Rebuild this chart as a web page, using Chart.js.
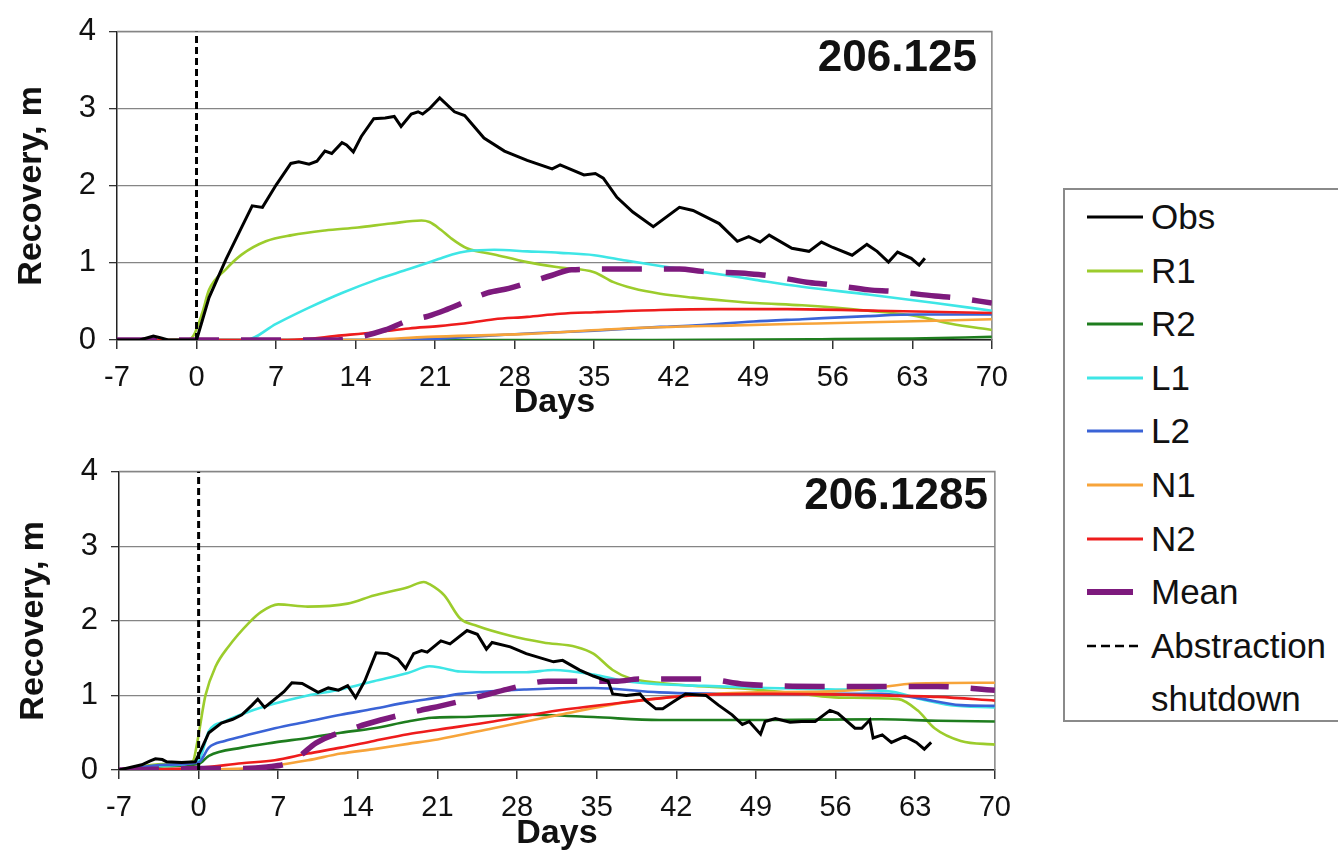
<!DOCTYPE html>
<html><head><meta charset="utf-8">
<script src="https://cdn.jsdelivr.net/npm/chart.js@4.4.1/dist/chart.umd.min.js"></script>
<style>
html,body{margin:0;padding:0;background:#fff;}
body{width:1338px;height:854px;position:relative;overflow:hidden;font-family:'Liberation Sans',Arial,sans-serif;}
#c1wrap{position:absolute;left:0;top:0;width:1020px;height:423px;}
#c2wrap{position:absolute;left:2px;top:440px;width:1021px;height:414px;}
#legend{position:absolute;left:1063px;top:188px;width:300px;height:534px;border:2px solid #8a8a8a;box-sizing:border-box;}
.li{position:absolute;left:0;height:40px;display:flex;align-items:center;white-space:nowrap;font-size:35px;color:#111;}
.li svg{margin-left:22px;}
</style></head>
<body>
<div id="c1wrap"><canvas id="c1"></canvas></div>
<div id="c2wrap"><canvas id="c2"></canvas></div>
<div id="legend"></div>
<script>
// ---------- tick labels ----------
const dayTicks = [-7,0,7,14,21,28,35,42,49,56,63,70];
const recoveryTicks = [0,1,2,3,4];
const wellNames = ['206.125','206.1285'];
const seriesNames = ['Obs','R1','R2','L1','L2','N1','N2','Mean'];
const shutdownName = ['Abstraction','shutdown'];
const shutdownLine = [[0,0],[0,4]];

// ---------- well 206.125 : [day, recovery m] ----------
const obsA = [[-7,0],[-5,0],[-4.3,0.03],[-3.8,0.05],[-3.2,0.03],[-2.5,0],[0,0],[0.5,0.25],[1.1,0.55],[2.6,1.05],[4.0,1.47],[4.9,1.74],[5.8,1.72],[7.0,2.01],[8.3,2.29],[9.0,2.31],[9.9,2.28],[10.6,2.32],[11.3,2.45],[11.9,2.42],[12.8,2.56],[13.2,2.53],[13.8,2.44],[14.5,2.64],[15.6,2.87],[16.6,2.88],[17.4,2.90],[18.0,2.77],[18.9,2.93],[19.5,2.96],[19.9,2.93],[20.5,3.0],[21.4,3.14],[22.7,2.96],[23.6,2.91],[25.3,2.62],[27.1,2.45],[29.1,2.33],[31.3,2.22],[32.0,2.27],[34.1,2.14],[35.1,2.16],[35.8,2.10],[37.0,1.85],[38.4,1.66],[40.2,1.47],[42.5,1.72],[43.7,1.68],[46.0,1.51],[47.6,1.28],[48.6,1.34],[49.6,1.27],[50.4,1.36],[52.4,1.19],[53.9,1.15],[55.0,1.27],[56.0,1.20],[57.7,1.10],[59.0,1.24],[59.9,1.15],[60.9,1.01],[61.7,1.14],[62.9,1.06],[63.6,0.97],[64.1,1.06]];
const r1A = [[-7,0],[-1,0],[-0.3,0.05],[0.5,0.35],[1.1,0.65],[2.6,0.92],[4.0,1.11],[6.1,1.28],[8.4,1.36],[11.3,1.42],[14.2,1.46],[17.1,1.51],[19.8,1.55],[20.5,1.53],[21.5,1.43],[22.4,1.32],[23.8,1.19],[26.2,1.11],[29.1,1.01],[32.0,0.94],[35.0,0.88],[36.7,0.75],[38.4,0.67],[40.8,0.60],[43.7,0.55],[46.6,0.51],[49.2,0.48],[53.3,0.45],[59.1,0.38],[63.4,0.31],[66.4,0.21],[70,0.13]];
const r2A = [[-7,0],[40,0],[55,0.01],[63,0.02],[70,0.04]];
const l1A = [[-7,0],[4.3,0],[7.0,0.21],[9.9,0.42],[12.8,0.61],[15.8,0.78],[18.7,0.92],[21.3,1.05],[22.5,1.11],[23.8,1.15],[26.2,1.17],[29.1,1.15],[32,1.13],[35,1.10],[37.8,1.03],[40.8,0.96],[43.7,0.90],[46.6,0.84],[49.2,0.78],[53.3,0.69],[59.1,0.59],[65,0.48],[70,0.38]];
const l2A = [[-7,0],[18,0],[25,0.05],[30,0.09],[35,0.12],[40.8,0.17],[44,0.19],[49,0.24],[53.3,0.27],[59.1,0.31],[63.4,0.33],[70,0.33]];
const n1A = [[-7,0],[14,0],[20.4,0.04],[29.1,0.08],[37.8,0.15],[47.5,0.19],[53.3,0.21],[59.1,0.23],[65,0.25],[70,0.27]];
const n2A = [[-7,0],[8,0],[12.8,0.06],[15.8,0.10],[18.7,0.15],[21.3,0.18],[23.3,0.21],[26.2,0.27],[29.1,0.30],[32,0.34],[35,0.36],[40.8,0.39],[46,0.40],[52,0.40],[60,0.38],[70,0.35]];
const meanA = [[-7,0],[12,0],[14,0.03],[16.6,0.13],[18.6,0.25],[20.4,0.31],[22.1,0.40],[25.6,0.61],[27.5,0.67],[31.3,0.84],[33,0.91],[36.8,0.92],[42.5,0.92],[44.5,0.89],[48.6,0.86],[50.1,0.84],[53.7,0.75],[55.6,0.72],[59.2,0.65],[61.3,0.63],[65,0.57],[66.7,0.55],[70,0.48]];

// ---------- well 206.1285 ----------
const obsB = [[-7,0],[-5,0.07],[-4.3,0.12],[-3.8,0.15],[-3.2,0.14],[-2.8,0.11],[-1.5,0.1],[-0.3,0.11],[0.3,0.3],[0.9,0.50],[2.0,0.63],[3.0,0.68],[3.8,0.74],[4.7,0.87],[5.2,0.95],[5.8,0.84],[6.7,0.95],[7.5,1.05],[8.2,1.17],[9.1,1.16],[10.5,1.04],[11.4,1.10],[12.3,1.07],[13.1,1.13],[13.8,0.97],[14.6,1.19],[15.6,1.57],[16.6,1.56],[17.5,1.49],[18.2,1.36],[18.9,1.56],[19.6,1.60],[20.1,1.58],[21.3,1.73],[22.1,1.69],[23.6,1.87],[24.5,1.82],[25.3,1.62],[25.8,1.71],[27.4,1.65],[28.8,1.56],[31.2,1.45],[32.0,1.47],[33.5,1.34],[34.7,1.26],[36.0,1.19],[36.4,1.02],[37.6,1.00],[38.8,1.02],[39.3,0.93],[40.2,0.82],[40.8,0.82],[41.7,0.91],[42.8,1.02],[44.6,1.00],[45.7,0.87],[46.9,0.74],[47.8,0.61],[48.4,0.65],[49.4,0.48],[49.8,0.65],[50.7,0.69],[52,0.64],[53.0,0.65],[54.2,0.65],[55.5,0.80],[56.2,0.76],[57.7,0.56],[58.3,0.56],[59.0,0.67],[59.3,0.43],[60.1,0.47],[60.9,0.37],[62.1,0.45],[63.1,0.37],[63.8,0.28],[64.4,0.37]];
const r1B = [[-7,0],[-4,0.07],[-1,0.1],[-0.5,0.12],[-0.1,0.39],[0.6,1.0],[1.5,1.39],[2.6,1.65],[4.4,1.97],[5.5,2.12],[7.0,2.22],[9.6,2.19],[13.1,2.23],[15.4,2.34],[18.4,2.45],[19.8,2.52],[20.3,2.49],[21.6,2.34],[23.0,2.03],[24.5,1.93],[27.4,1.80],[30.3,1.71],[33.2,1.65],[34.7,1.56],[36.4,1.34],[37.9,1.23],[40.5,1.17],[43.4,1.13],[48.9,1.08],[53,1.02],[56.3,0.97],[61.5,0.95],[63.2,0.80],[64.7,0.56],[67,0.39],[70,0.34]];
const r2B = [[-7,0],[-3,0.05],[0,0.08],[0.9,0.19],[3.8,0.30],[6.7,0.37],[9.6,0.43],[12.5,0.50],[15.4,0.56],[18.4,0.65],[20.5,0.70],[23,0.71],[28.8,0.74],[34.7,0.71],[40.5,0.67],[50,0.67],[60,0.68],[65,0.66],[70,0.65]];
const l1B = [[-7,0],[-3,0.06],[0,0.13],[0.9,0.52],[2.3,0.65],[4.4,0.78],[6.7,0.89],[9.6,1.0],[12.5,1.08],[15.4,1.19],[18.4,1.30],[20.3,1.39],[21.3,1.37],[23,1.32],[25.9,1.31],[28.8,1.31],[31.2,1.34],[34.7,1.28],[37.6,1.19],[40.5,1.15],[44,1.13],[50,1.10],[56,1.08],[61,1.05],[63.5,0.95],[66.1,0.87],[70,0.84]];
const l2B = [[-7,0],[-3,0.07],[0,0.1],[0.9,0.30],[2.3,0.39],[3.8,0.45],[6.7,0.56],[9.6,0.65],[12.5,0.74],[15.4,0.82],[18.4,0.91],[21,0.97],[23,1.02],[28.8,1.08],[34.7,1.10],[40.5,1.04],[48,1.02],[60,1.02],[63,0.97],[67,0.87],[70,0.86]];
const n1B = [[-7,0],[4,0.02],[6.7,0.06],[9.6,0.13],[12.5,0.22],[15.4,0.28],[18.4,0.35],[21,0.41],[25.9,0.56],[31.7,0.74],[37.6,0.91],[43.4,1.0],[49,1.04],[55,1.05],[59,1.09],[63,1.16],[70,1.17]];
const n2B = [[-7,0],[0,0.03],[3.8,0.09],[6.7,0.13],[9.6,0.22],[12.5,0.30],[15.4,0.39],[18.4,0.48],[21,0.54],[25.9,0.65],[31.7,0.80],[37.6,0.91],[43.4,1.0],[50,1.02],[60,1.0],[65,0.98],[70,0.93]];
const meanB = [[-7,0],[0,0.02],[4,0.02],[6,0.04],[8,0.1],[9,0.2],[10.3,0.36],[14,0.58],[16,0.67],[19.5,0.80],[21.3,0.86],[25.1,1.0],[27.1,1.08],[30.7,1.19],[33,1.19],[36.8,1.19],[38.7,1.22],[42.5,1.22],[44.4,1.22],[48,1.15],[55,1.12],[65,1.12],[70,1.07]];

// ---------- styles ----------
const FAM = "'Liberation Sans', Arial, sans-serif";
const colors = {Obs:'#000000', R1:'#9ccc2c', R2:'#1e7d1e', L1:'#3ee6e6', L2:'#3a63d6', N1:'#f7a43a', N2:'#ee1c1c', Mean:'#7d1a7d'};

const pts = a => a.map(p => ({x:p[0], y:p[1]}));

function buildDatasets(set){
  const ds = [];
  seriesNames.forEach((n, i) => {
    const isObs = n === 'Obs', isMean = n === 'Mean';
    ds.push({
      label:n, data:pts(set[i]), borderColor:colors[n], backgroundColor:colors[n],
      borderWidth: isMean ? 5.5 : (isObs ? 3 : 2.6),
      borderDash: isMean ? [40,22] : [],
      cubicInterpolationMode: isObs ? 'default' : 'monotone',
      tension: 0, pointRadius:0, fill:false,
      order: isObs ? 0 : (isMean ? 1 : 9 - i)
    });
  });
  ds.push({label:shutdownName.join(' '), data:pts(shutdownLine), borderColor:'#000', borderWidth:3, borderDash:[7,4], pointRadius:0, order:0});
  return ds;
}

const framePlugin = {
  id:'frame',
  beforeDatasetsDraw(chart){
    const {ctx, chartArea:{left,right,top,bottom}} = chart;
    ctx.save(); ctx.strokeStyle = '#858585'; ctx.lineWidth = 1.5;
    ctx.beginPath(); ctx.moveTo(left, top); ctx.lineTo(right, top); ctx.lineTo(right, bottom); ctx.stroke();
    ctx.restore();
  },
  afterDatasetsDraw(chart, args, opts){
    const {ctx, chartArea:{right,top}} = chart;
    ctx.save(); ctx.fillStyle = '#111'; ctx.font = "bold 44px " + FAM;
    ctx.textAlign = 'right'; ctx.textBaseline = 'middle';
    ctx.fillText(opts.text, right - opts.dx, top + opts.dy);
    ctx.restore();
  }
};

function makeChart(id, set, name, xAxisH, dx, dy, daysPad){
  return new Chart(document.getElementById(id), {
    type:'line',
    data:{datasets:buildDatasets(set)},
    plugins:[framePlugin],
    options:{
      responsive:true, maintainAspectRatio:false, animation:false,
      layout:{padding:{top:22, right:22, left:0, bottom:0}},
      plugins:{legend:{display:false}, tooltip:{enabled:false}, frame:{text:name, dx:dx, dy:dy}},
      scales:{
        x:{type:'linear', min:-7, max:70,
          afterBuildTicks(s){ s.ticks = dayTicks.map(v => ({value:v})); },
          ticks:{color:'#111', font:{size:29, family:FAM}, padding:12, maxRotation:0, autoSkip:false},
          grid:{drawOnChartArea:false, drawTicks:true, tickLength:9, tickColor:'#333', lineWidth:1.5},
          border:{color:'#222', width:1.5},
          title:{display:true, text:'Days', color:'#111', font:{size:34, weight:'bold', family:FAM}, padding:{top:0, bottom:daysPad}},
          afterFit(s){ s.height = xAxisH; }
        },
        y:{min:0, max:4,
          afterBuildTicks(s){ s.ticks = recoveryTicks.map(v => ({value:v})); },
          ticks:{color:'#111', font:{size:31, family:FAM}, padding:13},
          grid:{color:'#858585', lineWidth:1.3, tickLength:8, tickColor:'#333'},
          border:{color:'#222', width:1.5},
          title:{display:true, text:'Recovery, m', color:'#111', font:{size:34, weight:'bold', family:FAM}, padding:{top:11, bottom:0}},
          afterFit(s){ s.width = 117; }
        }
      }
    }
  });
}

makeChart('c1', [obsA, r1A, r2A, l1A, l2A, n1A, n2A, meanA], wellNames[0], 83, 15, 27, 0);
makeChart('c2', [obsB, r1B, r2B, l1B, l2B, n1B, n2B, meanB], wellNames[1], 84, 7, 25, 0);

// ---------- legend ----------
const leg = document.getElementById('legend');
const rowTop = 217 - 188, rowStep = 53.6;
function addRow(i, text, sample){
  const d = document.createElement('div');
  d.className = 'li';
  d.style.top = (rowTop + i*rowStep - 20 - 2) + 'px';
  d.innerHTML = sample + '<span>' + text + '</span>';
  leg.appendChild(d);
}
seriesNames.forEach((n, i) => {
  const w = n === 'Mean' ? 6 : 3;
  const len = n === 'Mean' ? 46 : 56;
  addRow(i, n, '<svg width="56" height="12" style="margin-right:8px"><line x1="0" y1="6" x2="' + len + '" y2="6" stroke="' + colors[n] + '" stroke-width="' + w + '"/></svg>');
});
addRow(8, shutdownName[0], '<svg width="56" height="12" style="margin-right:8px"><line x1="0" y1="6" x2="56" y2="6" stroke="#000" stroke-width="2.5" stroke-dasharray="9,5"/></svg>');
addRow(9, shutdownName[1], '<svg width="56" height="12" style="margin-right:8px"></svg>');
</script>
</body></html>
